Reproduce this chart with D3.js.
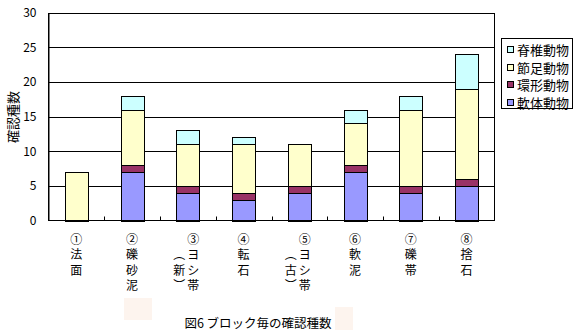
<!DOCTYPE html>
<html><head><meta charset="utf-8">
<script src="https://cdn.jsdelivr.net/npm/d3@7"></script>
<style>
html,body{margin:0;padding:0;background:#fff;}
text{font-family:"Noto Sans CJK JP","Noto Sans",sans-serif;fill:#000;}
</style></head>
<body>
<svg id="chart" width="581" height="330"></svg>
<script>
// ---- data ----
const categories = ["①法面","②礫砂泥","③ヨシ帯（新）","④転石","⑤ヨシ帯（古）","⑥軟泥","⑦礫帯","⑧捨石"];
// label columns (vertical writing, right column first)
const labelColumns = [
  [["①","法","面"]],
  [["②","礫","砂","泥"]],
  [["③","ヨ","シ","帯"],["︵","新","︶"]],
  [["④","転","石"]],
  [["⑤","ヨ","シ","帯"],["︵","古","︶"]],
  [["⑥","軟","泥"]],
  [["⑦","礫","帯"]],
  [["⑧","捨","石"]]
];
const seriesNames = ["軟体動物","環形動物","節足動物","脊椎動物"];
const molluscs   = [0,7,4,3,4,7,4,5];
const annelids   = [0,1,1,1,1,1,1,1];
const arthropods = [7,8,6,7,6,6,11,13];
const vertebrates= [0,2,2,1,0,2,2,5];
const seriesColors = ["#9999FF","#993366","#FFFFCC","#CCFFFF"];
const yTicks = [0,5,10,15,20,25,30];
const yLabel = "確認種数";
const title = "図6 ブロック毎の確認種数";

// ---- layout ----
const svg = d3.select("#chart");
const X0 = 48.5, X1 = 494.5, Y0 = 220.5, Y1 = 12.5;

const x = d3.scaleBand().domain(categories).range([X0, X1]).paddingInner(0.585).paddingOuter(0.2925);
const y = d3.scaleLinear().domain([0,30]).range([Y0, Y1]);

const rows = categories.map((c,i)=>({cat:c, vals:[molluscs[i],annelids[i],arthropods[i],vertebrates[i]]}));
const stack = d3.stack().keys([0,1,2,3]).value((d,k)=>d.vals[k]);
const stacked = stack(rows);

// faint artifacts
svg.append("rect").attr("x",124).attr("y",298).attr("width",28).attr("height",22).attr("fill","#fdf4ee");
svg.append("rect").attr("x",335).attr("y",307).attr("width",18).attr("height",23).attr("fill","#fdf4ee");

// gridlines
svg.append("g").selectAll("line").data(yTicks.filter(t=>t>0)).join("line")
  .attr("x1",X0).attr("x2",X1)
  .attr("y1",d=>Math.round(y(d))+0.5).attr("y2",d=>Math.round(y(d))+0.5)
  .attr("stroke","#000").attr("stroke-width",1);

// bars
svg.append("g").selectAll("g").data(stacked).join("g")
  .attr("fill",(d,i)=>seriesColors[i])
  .selectAll("rect").data(d=>d.filter(s=>s[1]-s[0]>0)).join("rect")
  .attr("x",d=>Math.round(x(d.data.cat))+0.5)
  .attr("width",Math.round(x.bandwidth()))
  .attr("y",d=>Math.round(y(d[1]))+0.5)
  .attr("height",d=>Math.round(y(d[0]))-Math.round(y(d[1])))
  .attr("stroke","#000").attr("stroke-width",1);

// plot border
svg.append("rect").attr("x",X0).attr("y",Math.round(y(30))+0.5).attr("width",X1-X0).attr("height",Y0-Math.round(y(30))-0.5)
  .attr("fill","none").attr("stroke","#000");

// y axis
const yAxis = d3.axisLeft(y).tickValues(yTicks).tickSize(0).tickPadding(12);
const gy = svg.append("g").attr("transform",`translate(${X0},0)`).call(yAxis);
gy.select(".domain").attr("stroke","#000");
gy.selectAll("text").style("font-family","'Noto Sans CJK JP',sans-serif").style("font-size","12px").attr("fill","#000");

// x axis ticks (inside) at category boundaries
const step = x.step();
const bounds = d3.range(1, categories.length).map(i=>X0 + i*step);
svg.append("g").selectAll("line").data(bounds).join("line")
  .attr("x1",d=>Math.round(d)+0.5).attr("x2",d=>Math.round(d)+0.5)
  .attr("y1",Y0).attr("y2",Y0-4).attr("stroke","#000");
svg.append("line").attr("x1",X0).attr("x2",X1).attr("y1",Y0).attr("y2",Y0).attr("stroke","#000");

// category labels (vertical)
const lineH = 15.5;
const lg = svg.append("g").style("font-size","12px");
categories.forEach((c,i)=>{
  const cx = x(c) + x.bandwidth()/2;
  const cols = labelColumns[i];
  cols.forEach((col,j)=>{
    let colX, baseY;
    if (cols.length===1){ colX = cx; baseY = 238; }
    else if (j===0){ colX = cx+5.5; baseY = 238; }
    else { colX = cx-8.5; baseY = 253.5; }
    col.forEach((ch,k)=>{
      lg.append("text").attr("x",colX).attr("y",baseY + k*lineH)
        .attr("text-anchor","middle").attr("dominant-baseline","central").text(ch);
    });
  });
});

// y label
svg.append("text").attr("transform","translate(12,117) rotate(-90)")
  .attr("text-anchor","middle").attr("dominant-baseline","central")
  .style("font-size","13px").text(yLabel);

// title
svg.append("text").attr("x",258).attr("y",322).attr("text-anchor","middle")
  .attr("dominant-baseline","central").style("font-size","12.5px").text(title);

// legend
const legendOrder = [3,2,1,0];
const lgd = svg.append("g");
lgd.append("rect").attr("x",501.5).attr("y",38.5).attr("width",71).attr("height",70)
  .attr("fill","#fff").attr("stroke","#000");
legendOrder.forEach((s,k)=>{
  const cy = 49.5 + k*17.5;
  lgd.append("rect").attr("x",507.5).attr("y",Math.round(cy-3.5)+0.5).attr("width",6).attr("height",6)
    .attr("fill",seriesColors[s]).attr("stroke","#000");
  lgd.append("text").attr("x",517).attr("y",cy).attr("dominant-baseline","central")
    .style("font-size","13px").text(seriesNames[s]);
});
</script>
</body></html>
